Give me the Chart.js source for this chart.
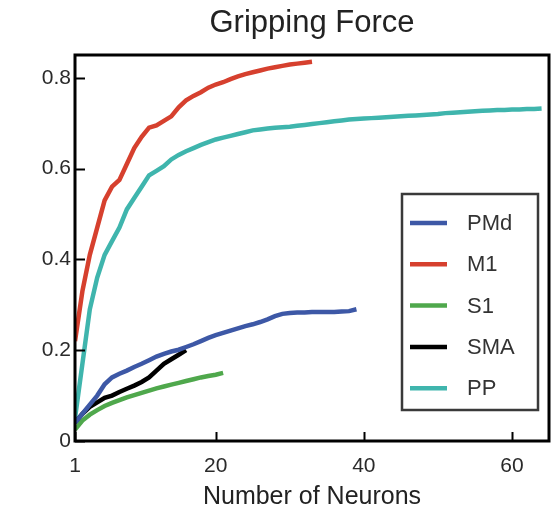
<!DOCTYPE html>
<html>
<head>
<meta charset="utf-8">
<script src="https://cdn.jsdelivr.net/npm/chart.js@4/dist/chart.umd.min.js"></script>
<style>
  html, body { margin: 0; padding: 0; background: #fff; }
  #wrap { width: 558px; height: 507px; }
</style>
</head>
<body>
<div id="wrap"><canvas id="decodeChart" width="558" height="507"></canvas></div>
<script>
// values, index 0 = 1 neuron
var seriesNames = ["PMd", "M1", "S1", "SMA", "PP"];
var seriesColors = ["#3d58a6", "#d6402e", "#4fa84c", "#000000", "#3fb5ad"];

var pmd = [0.04, 0.06, 0.08, 0.10, 0.125, 0.14, 0.148, 0.155, 0.163, 0.17,
    0.178, 0.186, 0.192, 0.197, 0.201, 0.207, 0.213, 0.22, 0.227, 0.233,
    0.238, 0.243, 0.248, 0.253, 0.257, 0.262, 0.268, 0.275, 0.28, 0.282,
    0.283, 0.283, 0.284, 0.284, 0.284, 0.284, 0.285, 0.286, 0.29];
var m1 = [0.22, 0.33, 0.41, 0.47, 0.53, 0.56, 0.575, 0.61, 0.645, 0.67,
    0.69, 0.695, 0.705, 0.715, 0.735, 0.75, 0.76, 0.768, 0.778, 0.785,
    0.79, 0.797, 0.803, 0.808, 0.812, 0.816, 0.82, 0.823, 0.826, 0.829,
    0.831, 0.833, 0.835];
var s1 = [0.025, 0.045, 0.058, 0.068, 0.077, 0.084, 0.09, 0.096, 0.101, 0.106,
    0.111, 0.116, 0.12, 0.124, 0.128, 0.132, 0.136, 0.14, 0.143, 0.146, 0.15];
var sma = [0.04, 0.06, 0.075, 0.085, 0.095, 0.10, 0.108, 0.115, 0.122, 0.13,
    0.14, 0.155, 0.17, 0.18, 0.19, 0.20];
var pp = [0.05, 0.17, 0.29, 0.36, 0.41, 0.44, 0.47, 0.51, 0.535, 0.56,
    0.585, 0.595, 0.605, 0.62, 0.63, 0.638, 0.645, 0.652, 0.658, 0.664,
    0.668, 0.672, 0.676, 0.68, 0.684, 0.686, 0.688, 0.69, 0.691, 0.692,
    0.694, 0.696, 0.698, 0.70, 0.702, 0.704, 0.706, 0.708, 0.709, 0.71,
    0.711, 0.712, 0.713, 0.714, 0.715, 0.716, 0.717, 0.718, 0.719, 0.72,
    0.722, 0.723, 0.724, 0.725, 0.726, 0.727, 0.728, 0.729, 0.729, 0.73,
    0.73, 0.731, 0.731, 0.732];

var xTicks = [1, 20, 40, 60];
var yTicks = [0, 0.2, 0.4, 0.6, 0.8];
var yTickLabels = ["0", "0.2", "0.4", "0.6", "0.8"];

var allSeries = [pmd, m1, s1, sma, pp];

var FONT = 'Arial, "Liberation Sans", sans-serif';

function toPoints(arr) {
    return arr.map(function(v, i) { return { x: i + 1, y: v }; });
}

// box around plot + inward tick marks
var frame = {
    id: 'frame',
    afterDatasetsDraw: function(chart) {
        var ctx = chart.ctx, a = chart.chartArea;
        var xs = chart.scales.x, ys = chart.scales.y;
        ctx.save();
        ctx.strokeStyle = '#000';
        ctx.lineWidth = 2;
        xTicks.forEach(function(v) {
            var px = Math.round(xs.getPixelForValue(v)) + 0.5;
            ctx.beginPath();
            ctx.moveTo(px, a.bottom);
            ctx.lineTo(px, a.bottom - 9);
            ctx.stroke();
        });
        yTicks.forEach(function(v) {
            var py = Math.round(ys.getPixelForValue(v)) + 0.5;
            ctx.beginPath();
            ctx.moveTo(a.left, py);
            ctx.lineTo(a.left + 10, py);
            ctx.stroke();
        });
        ctx.lineWidth = 3;
        ctx.strokeRect(a.left, a.top, a.right - a.left, a.bottom - a.top);
        ctx.restore();
    }
};

// legend box inside the plot
var boxLegend = {
    id: 'boxLegend',
    afterDraw: function(chart) {
        var ctx = chart.ctx;
        var bx = 402, by = 194, bw = 136, bh = 216;
        ctx.save();
        ctx.fillStyle = '#fff';
        ctx.fillRect(bx, by, bw, bh);
        ctx.strokeStyle = '#3a3a3a';
        ctx.lineWidth = 2.5;
        ctx.strokeRect(bx, by, bw, bh);
        ctx.font = '22px ' + FONT;
        ctx.textBaseline = 'middle';
        chart.data.datasets.forEach(function(ds, i) {
            var y = 223 + i * 41.3;
            ctx.strokeStyle = ds.borderColor;
            ctx.lineWidth = 4.5;
            ctx.beginPath();
            ctx.moveTo(410, y);
            ctx.lineTo(447, y);
            ctx.stroke();
            ctx.fillStyle = '#333';
            ctx.fillText(ds.label, 467, y + 1);
        });
        ctx.restore();
    }
};

var ctx = document.getElementById("decodeChart");
var chart = new Chart(ctx, {
    type: 'line',
    data: {
        datasets: seriesNames.map(function(name, i) {
            return {
                label: name,
                data: toPoints(allSeries[i]),
                borderColor: seriesColors[i],
                backgroundColor: seriesColors[i],
                borderWidth: 4.5,
                pointRadius: 0,
                tension: 0,
                fill: false
            };
        })
    },
    options: {
        responsive: false,
        animation: false,
        layout: { padding: { left: 0, right: 9, top: 0, bottom: 0 } },
        scales: {
            x: {
                type: 'linear',
                min: 1,
                max: 65,
                afterBuildTicks: function(s) { s.ticks = xTicks.map(function(v) { return { value: v }; }); },
                afterFit: function(s) { s.height = 66; },
                grid: { display: false, drawTicks: false },
                border: { display: false },
                ticks: {
                    color: '#2a2a2a',
                    padding: 13,
                    maxRotation: 0,
                    font: { family: FONT, size: 21 }
                },
                title: {
                    display: true,
                    text: 'Number of Neurons',
                    color: '#222',
                    padding: { top: -3, bottom: -3 },
                    font: { family: FONT, size: 25, lineHeight: 1 }
                }
            },
            y: {
                min: 0,
                max: 0.85,
                afterBuildTicks: function(s) { s.ticks = yTicks.map(function(v) { return { value: v }; }); },
                afterFit: function(s) { s.width = 75; },
                grid: { display: false, drawTicks: false },
                border: { display: false },
                ticks: {
                    color: '#2a2a2a',
                    padding: 4,
                    font: { family: FONT, size: 21 },
                    callback: function(v) {
                        var k = yTicks.indexOf(v);
                        return k >= 0 ? yTickLabels[k] : '';
                    }
                }
            }
        },
        plugins: {
            legend: { display: false },
            tooltip: { enabled: false },
            title: {
                display: true,
                fullSize: false,
                text: 'Gripping Force',
                color: '#222',
                padding: { top: 5, bottom: 12.8 },
                font: { family: FONT, size: 31, weight: 'normal' }
            }
        }
    },
    plugins: [frame, boxLegend]
});
</script>
</body>
</html>
